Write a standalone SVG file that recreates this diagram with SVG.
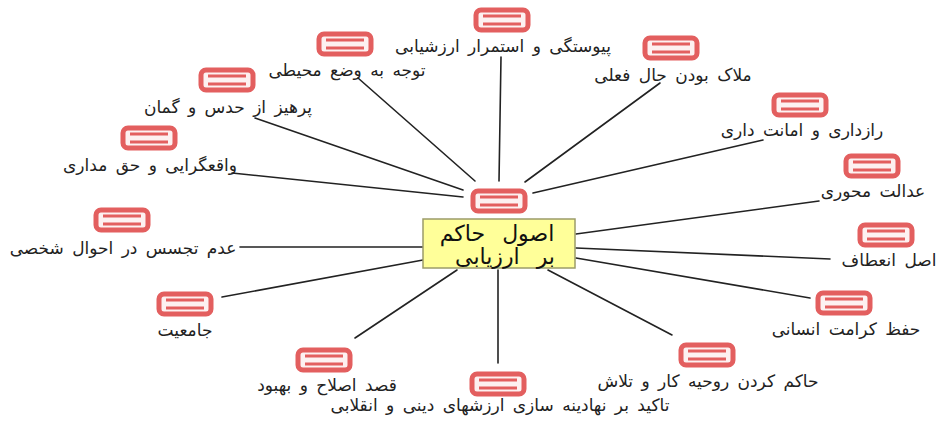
<svg xmlns="http://www.w3.org/2000/svg" xmlns:xlink="http://www.w3.org/1999/xlink" width="942" height="424" viewBox="0 0 942 424">
<style>
.lbl{font-family:"DejaVu Sans","Noto Sans",sans-serif;font-size:17px;word-spacing:3px;fill:#222;text-anchor:middle}
.ctr{font-family:"DejaVu Sans","Noto Sans",sans-serif;font-size:22px;word-spacing:10px;fill:#111;text-anchor:middle}
.edge{stroke:#222;stroke-width:1.6;fill:none;stroke-linecap:round}
</style>
<defs>
<g id="icon">
<rect x="-26" y="-10" width="52" height="20" rx="5" ry="5" fill="#fdf1f1" stroke="#e35f5f" stroke-width="5"/>
<line x1="-19" y1="-4" x2="19" y2="-4" stroke="#e35f5f" stroke-width="3"/>
<line x1="-19" y1="4" x2="19" y2="4" stroke="#e35f5f" stroke-width="3"/>
</g>
</defs>
<rect width="942" height="424" fill="#fff"/>
<g id="connectors">
<line class="edge" x1="501" y1="57" x2="499" y2="181"/>
<line class="edge" x1="660" y1="83" x2="525" y2="182"/>
<line class="edge" x1="763" y1="140" x2="533" y2="193"/>
<line class="edge" x1="819" y1="201" x2="576" y2="234"/>
<line class="edge" x1="830" y1="259" x2="576" y2="248"/>
<line class="edge" x1="810" y1="298" x2="576" y2="258"/>
<line class="edge" x1="672" y1="335" x2="548" y2="270"/>
<line class="edge" x1="498" y1="363" x2="498" y2="270"/>
<line class="edge" x1="355" y1="338" x2="457" y2="270"/>
<line class="edge" x1="222" y1="297" x2="423" y2="260"/>
<line class="edge" x1="240" y1="247" x2="423" y2="247"/>
<line class="edge" x1="232" y1="173" x2="463" y2="197"/>
<line class="edge" x1="255" y1="118" x2="463" y2="190"/>
<line class="edge" x1="358" y1="78" x2="475" y2="181"/>
</g>
<g id="center">
<use xlink:href="#icon" x="499" y="201"/>
<rect x="423" y="219" width="152" height="49" fill="#ffff99" stroke="#9c9c6a" stroke-width="1.5"/>
<text class="ctr"><tspan x="497" y="241">اصول حاکم</tspan><tspan x="505" y="264">بر ارزیابی</tspan></text>
</g>
<g id="n1"><use xlink:href="#icon" x="502" y="20"/><text class="lbl" x="503" y="52">پیوستگی و استمرار ارزشیابی</text></g>
<g id="n2"><use xlink:href="#icon" x="671" y="48"/><text class="lbl" x="673" y="81">ملاک بودن حال فعلی</text></g>
<g id="n3"><use xlink:href="#icon" x="800" y="105"/><text class="lbl" x="802" y="136">رازداری و امانت داری</text></g>
<g id="n4"><use xlink:href="#icon" x="872" y="166"/><text class="lbl" x="873" y="197">عدالت محوری</text></g>
<g id="n5"><use xlink:href="#icon" x="886" y="235"/><text class="lbl" x="889" y="266">اصل انعطاف</text></g>
<g id="n6"><use xlink:href="#icon" x="844" y="303"/><text class="lbl" x="846" y="335">حفظ کرامت انسانی</text></g>
<g id="n7"><use xlink:href="#icon" x="707" y="355"/><text class="lbl" x="708" y="387">حاکم کردن روحیه کار و تلاش</text></g>
<g id="n8"><use xlink:href="#icon" x="498" y="384"/><text class="lbl" x="500" y="411">تاکید بر نهادینه سازی ارزشهای دینی و انقلابی</text></g>
<g id="n9"><use xlink:href="#icon" x="324" y="360"/><text class="lbl" x="327" y="391">قصد اصلاح و بهبود</text></g>
<g id="n10"><use xlink:href="#icon" x="185" y="304"/><text class="lbl" x="185" y="336">جامعیت</text></g>
<g id="n11"><use xlink:href="#icon" x="122" y="220"/><text class="lbl" x="123" y="254">عدم تجسس در احوال شخصی</text></g>
<g id="n12"><use xlink:href="#icon" x="149" y="138"/><text class="lbl" x="150" y="171">واقعگرایی و حق مداری</text></g>
<g id="n13"><use xlink:href="#icon" x="227" y="80"/><text class="lbl" x="228" y="113">پرهیز از حدس و گمان</text></g>
<g id="n14"><use xlink:href="#icon" x="345" y="44"/><text class="lbl" x="347" y="76">توجه به وضع محیطی</text></g>
</svg>
